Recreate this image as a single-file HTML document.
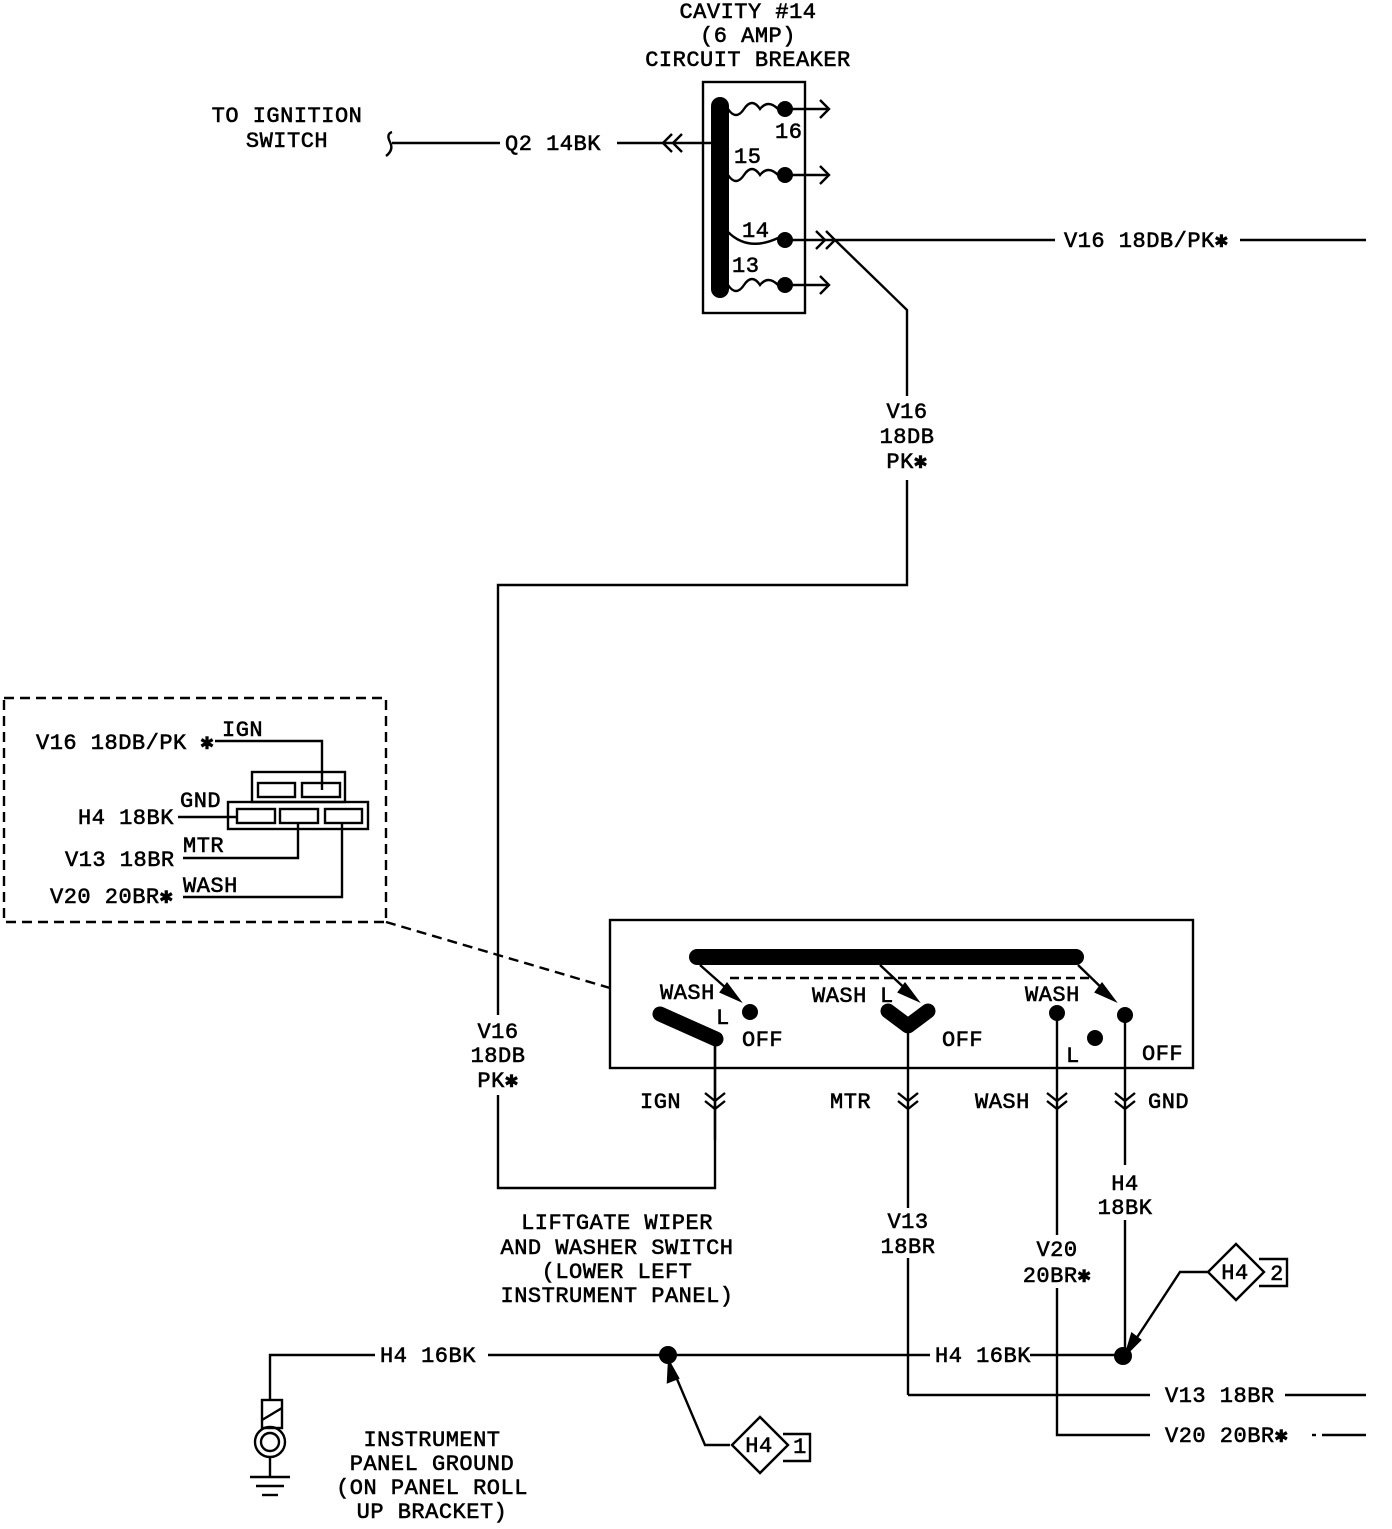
<!DOCTYPE html>
<html><head><meta charset="utf-8"><style>
html,body{margin:0;padding:0;background:#fff}
svg text{font-family:"Liberation Mono","DejaVu Sans Mono",monospace;font-size:22px;fill:#000;stroke:#000;stroke-width:0.6px;letter-spacing:0.5px}
</style></head><body>
<svg width="1392" height="1524" viewBox="0 0 1392 1524" xmlns="http://www.w3.org/2000/svg">
<g fill="none" stroke="#000" stroke-width="2.4">
<rect x="703" y="82" width="102" height="231"/>
<line x1="720" y1="106" x2="720" y2="289" stroke-width="18" stroke-linecap="round"/>
<path d="M728 109 q8 12 16 0 t16 0 q8 -10 18 0"/>
<path d="M728 175 q8 12 16 0 t16 0 q8 -10 18 0"/>
<path d="M728 232 q20 20 50 6"/>
<path d="M728 285 q8 12 16 0 t16 0 q8 -10 18 0"/>
<line x1="785" y1="109" x2="828" y2="109"/><path d="M820 100 l9 9 l-9 9"/>
<line x1="785" y1="175" x2="828" y2="175"/><path d="M820 166 l9 9 l-9 9"/>
<line x1="785" y1="240" x2="1055" y2="240"/><path d="M816 231 l9 9 l-9 9 M826 231 l9 9 l-9 9"/>
<line x1="785" y1="285" x2="828" y2="285"/><path d="M820 276 l9 9 l-9 9"/>
<path d="M392 132 q-6 2 -2 10 q4 8 -4 14"/>
<line x1="392" y1="143" x2="500" y2="143"/>
<line x1="617" y1="143" x2="720" y2="143"/>
<path d="M672 134 l-9 9 l9 9 M682 134 l-9 9 l9 9"/>
<line x1="1240" y1="240" x2="1366" y2="240"/>
<polyline points="835,240 907,310 907,396"/>
<polyline points="907,480 907,585 498,585 498,1015"/>
<polyline points="498,1095 498,1188 715,1188 715,1040"/>
<rect x="4" y="698" width="382" height="224" stroke-dasharray="10,6"/>
<line x1="386" y1="922" x2="610" y2="988" stroke-dasharray="10,6"/>
<polyline points="215,741 322,741 322,790"/>
<rect x="252" y="772" width="93" height="30"/>
<rect x="258" y="783" width="37" height="14"/><rect x="302" y="783" width="38" height="14"/>
<rect x="228" y="802" width="140" height="27"/>
<rect x="237" y="809" width="38" height="14"/><rect x="280" y="809" width="38" height="14"/><rect x="325" y="809" width="37" height="14"/>
<line x1="178" y1="817" x2="237" y2="817"/>
<polyline points="183,858 298,858 298,823"/>
<polyline points="183,897 342,897 342,823"/>
<rect x="610" y="920" width="583" height="148"/>
<line x1="697" y1="957" x2="1076" y2="957" stroke-width="16" stroke-linecap="round"/>
<line x1="730" y1="978" x2="1090" y2="978" stroke-dasharray="9,5"/>
<line x1="700" y1="965" x2="735" y2="996"/><path d="M727 984 l12 16 l-18 -8 z" fill="#000"/>
<line x1="880" y1="965" x2="913" y2="996"/><path d="M905 984 l12 16 l-18 -8 z" fill="#000"/>
<line x1="1078" y1="965" x2="1110" y2="996"/><path d="M1102 984 l12 16 l-18 -8 z" fill="#000"/>
<line x1="660" y1="1014" x2="716" y2="1039" stroke-width="15" stroke-linecap="round"/>
<polyline points="888,1011 908,1026 928,1011" stroke-width="15" stroke-linecap="round" stroke-linejoin="round"/>
<line x1="715" y1="1040" x2="715" y2="1140"/>
<line x1="908" y1="1030" x2="908" y2="1208"/>
<line x1="908" y1="1258" x2="908" y2="1395"/>
<line x1="908" y1="1395" x2="1150" y2="1395"/>
<line x1="1057" y1="1013" x2="1057" y2="1235"/>
<polyline points="1057,1288 1057,1435 1150,1435"/>
<line x1="1125" y1="1015" x2="1125" y2="1165"/>
<line x1="1125" y1="1220" x2="1125" y2="1355"/>
<path d="M705 1093 l10 8 l10 -8 M705 1101 l10 8 l10 -8"/>
<path d="M898 1093 l10 8 l10 -8 M898 1101 l10 8 l10 -8"/>
<path d="M1047 1093 l10 8 l10 -8 M1047 1101 l10 8 l10 -8"/>
<path d="M1115 1093 l10 8 l10 -8 M1115 1101 l10 8 l10 -8"/>
<line x1="1285" y1="1395" x2="1366" y2="1395"/>
<line x1="1312" y1="1435" x2="1316" y2="1435"/><line x1="1322" y1="1435" x2="1366" y2="1435"/>
<polyline points="375,1355 270,1355 270,1400"/>
<line x1="488" y1="1355" x2="930" y2="1355"/>
<line x1="1030" y1="1355" x2="1123" y2="1355"/>
<rect x="262" y="1400" width="20" height="28"/><line x1="262" y1="1420" x2="282" y2="1408"/>
<circle cx="270" cy="1442" r="15"/><circle cx="270" cy="1442" r="9"/>
<line x1="270" y1="1457" x2="270" y2="1477"/>
<line x1="250" y1="1477" x2="290" y2="1477"/><line x1="256" y1="1486" x2="284" y2="1486"/><line x1="262" y1="1495" x2="278" y2="1495"/>
<polyline points="730,1445 705,1445 674,1372"/>
<path d="M669 1362 l-1 20 l10 -4 z" fill="#000"/>
<path d="M760 1417 l28 28 l-28 28 l-28 -28 z"/>
<polyline points="783,1434 810,1434 810,1461 783,1461"/>
<polyline points="1208,1272 1180,1272 1132,1345"/>
<path d="M1126 1354 l6 -20 l8 6 z" fill="#000"/>
<path d="M1236 1244 l28 28 l-28 28 l-28 -28 z"/>
<polyline points="1259,1259 1287,1259 1287,1286 1259,1286"/>
</g>
<g fill="#000">
<circle cx="785" cy="109" r="8"/><circle cx="785" cy="175" r="8"/><circle cx="785" cy="240" r="8"/><circle cx="785" cy="285" r="8"/>
<circle cx="750" cy="1012" r="8"/><circle cx="1057" cy="1013" r="8"/><circle cx="1125" cy="1015" r="8"/><circle cx="1095" cy="1038" r="8"/>
<circle cx="668" cy="1355" r="9"/><circle cx="1123" cy="1356" r="9"/>
</g>
<g text-anchor="middle">
<text x="748" y="18">CAVITY #14</text>
<text x="748" y="42">(6 AMP)</text>
<text x="748" y="66">CIRCUIT BREAKER</text>
<text x="287" y="122">TO IGNITION</text>
<text x="287" y="147">SWITCH</text>
<text x="907" y="418">V16</text><text x="907" y="443">18DB</text><text x="907" y="468">PK✱</text>
<text x="498" y="1038">V16</text><text x="498" y="1062">18DB</text><text x="498" y="1087">PK✱</text>
<text x="908" y="1228">V13</text><text x="908" y="1253">18BR</text>
<text x="1057" y="1256">V20</text><text x="1057" y="1282">20BR✱</text>
<text x="1125" y="1190">H4</text><text x="1125" y="1214">18BK</text>
<text x="617" y="1229">LIFTGATE WIPER</text>
<text x="617" y="1254">AND WASHER SWITCH</text>
<text x="617" y="1278">(LOWER LEFT</text>
<text x="617" y="1302">INSTRUMENT PANEL)</text>
<text x="432" y="1446">INSTRUMENT</text>
<text x="432" y="1470">PANEL GROUND</text>
<text x="432" y="1494">(ON PANEL ROLL</text>
<text x="432" y="1518">UP BRACKET)</text>
<text x="759" y="1452" font-size="18">H4</text><text x="800" y="1453" font-size="18">1</text>
<text x="1235" y="1279" font-size="18">H4</text><text x="1277" y="1280" font-size="18">2</text>
</g>
<text x="505" y="150">Q2 14BK</text>
<text x="1064" y="247">V16 18DB/PK✱</text>
<text x="775" y="138" font-size="18">16</text>
<text x="734" y="163" font-size="18">15</text>
<text x="742" y="237" font-size="18">14</text>
<text x="732" y="272" font-size="18">13</text>
<text x="36" y="749">V16 18DB/PK ✱</text>
<text x="222" y="736">IGN</text>
<text x="78" y="824">H4 18BK</text>
<text x="180" y="807">GND</text>
<text x="65" y="866">V13 18BR</text>
<text x="183" y="852">MTR</text>
<text x="50" y="903">V20 20BR✱</text>
<text x="183" y="892">WASH</text>
<text x="660" y="999">WASH</text>
<text x="716" y="1024">L</text>
<text x="742" y="1046">OFF</text>
<text x="812" y="1002">WASH</text>
<text x="880" y="1002">L</text>
<text x="942" y="1046">OFF</text>
<text x="1025" y="1001">WASH</text>
<text x="1066" y="1062">L</text>
<text x="1142" y="1060">OFF</text>
<text x="640" y="1108">IGN</text>
<text x="830" y="1108">MTR</text>
<text x="975" y="1108">WASH</text>
<text x="1148" y="1108">GND</text>
<text x="380" y="1362">H4 16BK</text>
<text x="935" y="1362">H4 16BK</text>
<text x="1165" y="1402">V13 18BR</text>
<text x="1165" y="1442">V20 20BR✱</text>
</svg>
</body></html>
